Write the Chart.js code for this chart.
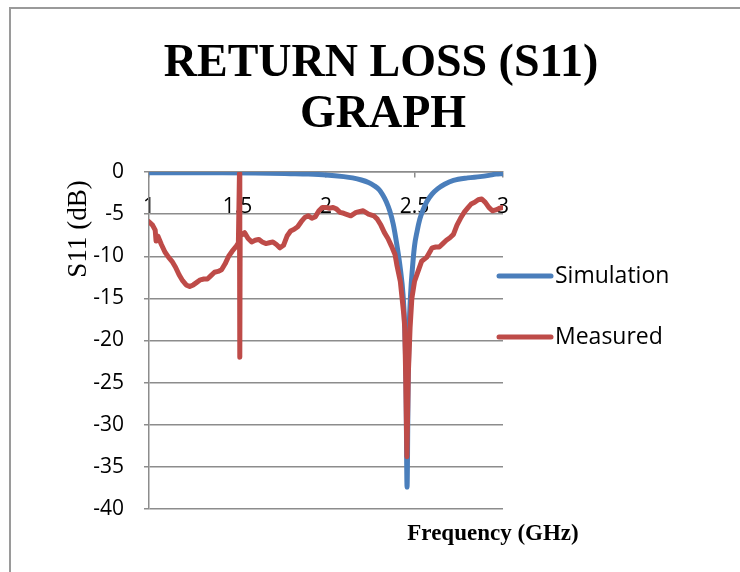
<!DOCTYPE html>
<html>
<head>
<meta charset="utf-8">
<script src="https://cdn.jsdelivr.net/npm/chart.js@4"></script>
<style>
  body { margin: 0; background: #fff; }
</style>
</head>
<body>
<canvas id="s11Chart" width="740" height="572"></canvas>
<script>
// frequency in GHz, S11 in dB
const simFreq = [1.0, 1.2, 1.4, 1.6, 1.8, 1.9, 2.0, 2.1, 2.15, 2.2, 2.24, 2.27, 2.30, 2.32, 2.34, 2.36,
    2.38, 2.40, 2.42, 2.435, 2.445, 2.452, 2.458, 2.464, 2.47, 2.478, 2.488, 2.50, 2.515, 2.53, 2.55,
    2.57, 2.60, 2.63, 2.67, 2.72, 2.80, 2.87, 2.92, 2.96, 3.0];
const simDb = [-0.1, -0.1, -0.1, -0.12, -0.2, -0.25, -0.35, -0.55, -0.7, -0.95, -1.25, -1.6, -2.1, -2.7, -3.5, -4.6,
    -6.2, -8.6, -11.5, -14.5, -18.5, -25.0, -37.4, -25.0, -18.5, -14.5, -11.5, -8.8, -7.0, -5.6, -4.4,
    -3.5, -2.6, -2.0, -1.45, -1.0, -0.7, -0.55, -0.4, -0.25, -0.2];

const measFreq = [1.00, 1.02, 1.035, 1.04, 1.05, 1.07, 1.09, 1.11, 1.13, 1.15, 1.17, 1.19, 1.21, 1.23, 1.25,
    1.27, 1.29, 1.31, 1.33, 1.35, 1.37, 1.39, 1.41, 1.43, 1.45, 1.47, 1.49, 1.505, 1.511, 1.513, 1.515,
    1.54, 1.56, 1.58, 1.60, 1.62, 1.64, 1.66, 1.68, 1.70, 1.72, 1.74, 1.76, 1.78, 1.80, 1.82, 1.84,
    1.86, 1.88, 1.90, 1.92, 1.94, 1.96, 1.98, 2.00, 2.02, 2.04, 2.06, 2.08, 2.10, 2.14, 2.17, 2.21,
    2.24, 2.27, 2.29, 2.31, 2.33, 2.35, 2.37, 2.39, 2.40, 2.42, 2.43, 2.44, 2.445, 2.45, 2.457,
    2.465, 2.475, 2.485, 2.50, 2.52, 2.54, 2.57, 2.60, 2.62, 2.64, 2.66, 2.68, 2.70, 2.72, 2.74,
    2.76, 2.78, 2.80, 2.82, 2.84, 2.86, 2.88, 2.90, 2.92, 2.94, 2.96, 2.98, 3.00];
const measDb = [-5.9, -6.3, -6.9, -8.2, -7.6, -8.6, -9.5, -10.1, -10.6, -11.3, -12.2, -12.9, -13.4, -13.6, -13.4,
    -13.1, -12.8, -12.7, -12.7, -12.3, -11.9, -11.8, -11.6, -10.9, -10.0, -9.4, -8.9, -8.4, -0.2, -22.0, -7.6,
    -7.2, -7.9, -8.3, -8.1, -8.0, -8.3, -8.5, -8.4, -8.3, -8.6, -9.0, -8.7, -7.6, -7.0, -6.8, -6.5,
    -5.9, -5.4, -5.2, -5.5, -5.3, -4.6, -4.2, -4.2, -4.3, -4.2, -4.4, -4.8, -4.9, -5.2, -4.8, -4.6,
    -5.0, -5.2, -5.6, -6.3, -7.2, -7.9, -8.8, -9.8, -11.0, -13.0, -15.0, -17.0, -18.5, -24.0, -33.8,
    -24.0, -18.5, -15.0, -13.0, -11.8, -10.6, -10.1, -9.0, -8.9, -8.9, -8.5, -8.1, -7.8, -7.4, -6.3,
    -5.5, -4.8, -4.3, -3.8, -3.6, -3.3, -3.2, -3.6, -4.2, -4.6, -4.5, -4.3, -4.2];

const titleLines = ['RETURN LOSS (S11)', 'GRAPH'];
const xTitle = 'Frequency (GHz)';
const yTitle = 'S11 (dB)';

const toPoints = (xs, ys) => xs.map((x, i) => ({ x, y: ys[i] }));

const gridGray = '#8c8c8c';

// title, axis titles, legend and frame drawn at the spots the reference uses
const decorPlugin = {
    id: 'decor',
    beforeDraw(chart) {
        const ctx = chart.ctx;
        ctx.save();
        ctx.strokeStyle = '#9a9a9a';
        ctx.lineWidth = 2;
        ctx.beginPath();
        ctx.moveTo(10, 572);
        ctx.lineTo(10, 8);
        ctx.lineTo(740, 8);
        ctx.stroke();
        ctx.restore();
    },
    afterDraw(chart) {
        const ctx = chart.ctx;
        ctx.save();
        ctx.fillStyle = '#000';
        ctx.textAlign = 'center';
        ctx.textBaseline = 'alphabetic';
        ctx.font = 'bold 46px "Liberation Serif"';
        ctx.fillText(titleLines[0], 381, 76);
        ctx.fillText(titleLines[1], 383, 127);

        ctx.font = 'bold 23px "Liberation Serif"';
        ctx.fillText(xTitle, 493, 540);

        ctx.save();
        ctx.translate(79, 229);
        ctx.rotate(-Math.PI / 2);
        ctx.textBaseline = 'middle';
        ctx.font = '27px "Liberation Serif"';
        ctx.fillText(yTitle, 0, 0);
        ctx.restore();

        const rows = [276, 337];
        ctx.font = '23px "Open Sans"';
        ctx.textAlign = 'left';
        ctx.textBaseline = 'middle';
        ctx.lineCap = 'round';
        chart.data.datasets.forEach((ds, i) => {
            const y = rows[i];
            ctx.strokeStyle = ds.borderColor;
            ctx.lineWidth = 5;
            ctx.beginPath();
            ctx.moveTo(499, y);
            ctx.lineTo(551, y);
            ctx.stroke();
            ctx.fillText(ds.label, 555, y);
        });
        ctx.restore();
    }
};

new Chart(document.getElementById('s11Chart'), {
    type: 'line',
    data: {
        datasets: [{
            label: 'Simulation',
            data: toPoints(simFreq, simDb),
            borderColor: '#4A7EBB',
            borderWidth: 5,
            cubicInterpolationMode: 'monotone',
            order: 2
        }, {
            label: 'Measured',
            data: toPoints(measFreq, measDb),
            borderColor: '#BE4B48',
            borderWidth: 5,
            tension: 0,
            order: 1
        }]
    },
    options: {
        responsive: false,
        animation: false,
        devicePixelRatio: 1,
        layout: { padding: { left: 0, top: 172, right: 237, bottom: 63 } },
        elements: {
            point: { radius: 0 },
            line: { borderCapStyle: 'round', borderJoinStyle: 'round' }
        },
        plugins: {
            legend: { display: false },
            title: { display: false },
            tooltip: { enabled: false }
        },
        scales: {
            x: {
                type: 'linear',
                position: { y: 0 },
                min: 1,
                max: 3,
                ticks: {
                    stepSize: 0.5,
                    color: '#000',
                    padding: 17,
                    font: { family: 'Open Sans', size: 21 },
                    callback: (v) => String(Math.round(v * 10) / 10)
                },
                grid: { drawOnChartArea: false, tickLength: 5, color: gridGray, lineWidth: 1.5 },
                border: { color: gridGray, width: 1.5 }
            },
            y: {
                min: -40,
                max: 0,
                afterFit(scale) { scale.width = 149; },
                ticks: {
                    stepSize: 5,
                    color: '#000',
                    padding: 20,
                    font: { family: 'Open Sans', size: 21 }
                },
                grid: { tickLength: 5, color: gridGray, lineWidth: 1.5 },
                border: { color: gridGray, width: 1.5 }
            }
        }
    },
    plugins: [decorPlugin]
});
</script>
</body>
</html>
